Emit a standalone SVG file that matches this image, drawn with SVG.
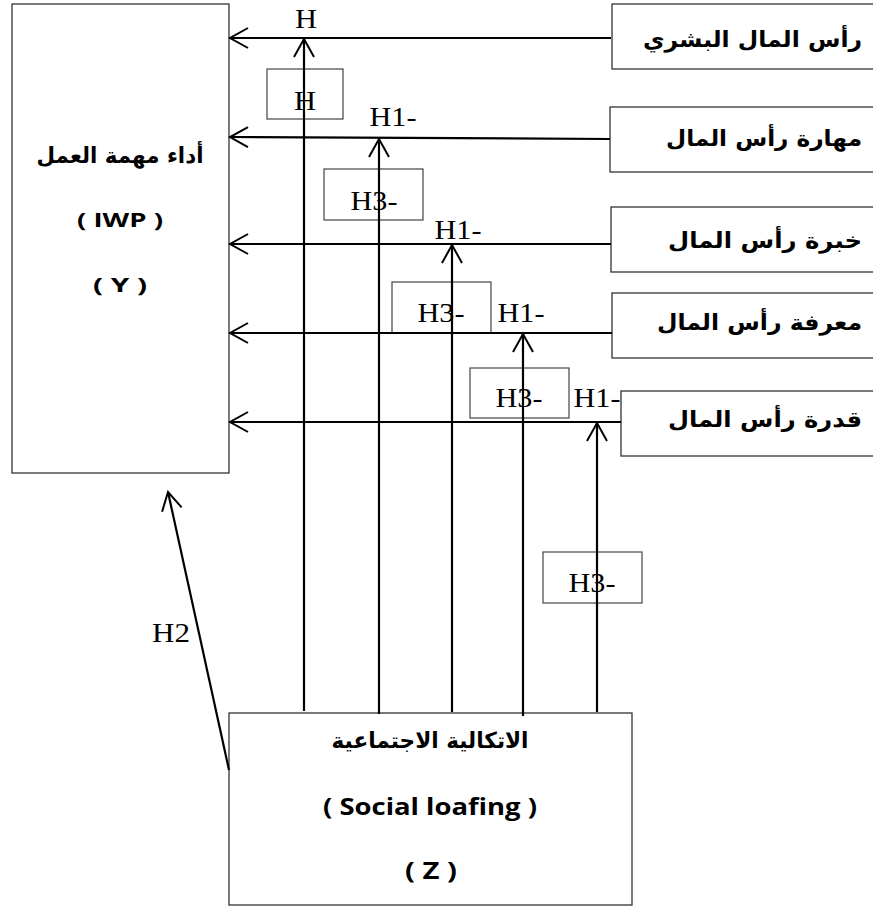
<svg xmlns="http://www.w3.org/2000/svg" width="873" height="908" viewBox="0 0 873 908">
<defs>
<marker id="arr" markerUnits="userSpaceOnUse" markerWidth="24" markerHeight="24" viewBox="-20 -12 22 24" refX="0" refY="0" orient="auto" overflow="visible">
<path d="M -18 -10 L 0 0 L -18 10" fill="none" stroke="#000" stroke-width="2"/>
</marker>
</defs>
<style>
.node{fill:#fff;stroke:#333;stroke-width:1.3}
.lbox{fill:none;stroke:#444;stroke-width:1.2}
.ar{font-family:"DejaVu Sans",sans-serif;font-weight:bold;font-size:22px;fill:#000}
.lat{font-family:"Open Sans",Lato,sans-serif;font-weight:bold;font-size:20px;fill:#000}
.latz{font-family:"Open Sans",Lato,sans-serif;font-weight:bold;font-size:23px;fill:#000}
.h{font-family:"Liberation Serif","Times New Roman",serif;font-size:27px;fill:#000}
.c{fill:none;stroke:#000;stroke-width:2.2}
</style>
<rect width="873" height="908" fill="#fff"/>

<g id="node-y">
<rect class="node" x="12" y="4" width="217" height="469"/>
<text class="ar" x="120" y="163" text-anchor="middle" textLength="167" lengthAdjust="spacingAndGlyphs">أداء مهمة العمل</text>
<text class="lat" x="120" y="227" text-anchor="middle" textLength="86" lengthAdjust="spacingAndGlyphs">( IWP )</text>
<text class="lat" x="120" y="292" text-anchor="middle" textLength="54" lengthAdjust="spacingAndGlyphs">( Y )</text>
</g>

<g id="node-x1">
<rect class="node" x="612" y="4" width="270" height="65"/>
<text class="ar" x="862" y="47" text-anchor="end" textLength="219" lengthAdjust="spacingAndGlyphs">رأس المال البشري</text>
</g>
<g id="node-x2">
<rect class="node" x="610" y="107" width="272" height="65"/>
<text class="ar" x="862" y="146" text-anchor="end" textLength="196" lengthAdjust="spacingAndGlyphs">مهارة رأس المال</text>
</g>
<g id="node-x3">
<rect class="node" x="611" y="207" width="271" height="65"/>
<text class="ar" x="862" y="248" text-anchor="end" textLength="194" lengthAdjust="spacingAndGlyphs">خبرة رأس المال</text>
</g>
<g id="node-x4">
<rect class="node" x="612" y="293" width="270" height="65"/>
<text class="ar" x="862" y="330" text-anchor="end" textLength="205" lengthAdjust="spacingAndGlyphs">معرفة رأس المال</text>
</g>
<g id="node-x5">
<rect class="node" x="621" y="391" width="261" height="65"/>
<text class="ar" x="862" y="427" text-anchor="end" textLength="194" lengthAdjust="spacingAndGlyphs">قدرة رأس المال</text>
</g>

<g id="node-z">
<rect class="node" x="229" y="713" width="403" height="192"/>
<text class="ar" x="430" y="748" text-anchor="middle" textLength="197" lengthAdjust="spacingAndGlyphs">الاتكالية الاجتماعية</text>
<text class="latz" x="430" y="815" text-anchor="middle" textLength="214" lengthAdjust="spacingAndGlyphs">( Social loafing )</text>
<text class="latz" x="431" y="879" text-anchor="middle" textLength="52" lengthAdjust="spacingAndGlyphs">( Z )</text>
</g>

<g id="labels">
<rect class="lbox" x="267" y="69" width="76" height="50"/>
<rect class="lbox" x="324" y="169" width="99" height="51"/>
<rect class="lbox" x="392" y="282" width="99" height="51"/>
<rect class="lbox" x="470" y="368" width="99" height="50"/>
<rect class="lbox" x="543" y="552" width="99" height="51"/>
<text class="h" x="306" y="28" text-anchor="middle" textLength="22" lengthAdjust="spacingAndGlyphs">H</text>
<text class="h" x="305" y="110" text-anchor="middle" textLength="22" lengthAdjust="spacingAndGlyphs">H</text>
<text class="h" x="393" y="126" text-anchor="middle" textLength="47" lengthAdjust="spacingAndGlyphs">H1-</text>
<text class="h" x="374" y="210" text-anchor="middle" textLength="47" lengthAdjust="spacingAndGlyphs">H3-</text>
<text class="h" x="458" y="239" text-anchor="middle" textLength="47" lengthAdjust="spacingAndGlyphs">H1-</text>
<text class="h" x="441" y="322" text-anchor="middle" textLength="47" lengthAdjust="spacingAndGlyphs">H3-</text>
<text class="h" x="521" y="322" text-anchor="middle" textLength="47" lengthAdjust="spacingAndGlyphs">H1-</text>
<text class="h" x="519" y="407" text-anchor="middle" textLength="47" lengthAdjust="spacingAndGlyphs">H3-</text>
<text class="h" x="597" y="407" text-anchor="middle" textLength="47" lengthAdjust="spacingAndGlyphs">H1-</text>
<text class="h" x="592" y="592" text-anchor="middle" textLength="47" lengthAdjust="spacingAndGlyphs">H3-</text>
<text class="h" x="171" y="642" text-anchor="middle" textLength="38" lengthAdjust="spacingAndGlyphs">H2</text>
</g>

<g id="connectors">
<line class="c" x1="611" y1="38" x2="230" y2="38" marker-end="url(#arr)"/>
<line class="c" x1="610" y1="139" x2="230" y2="137" marker-end="url(#arr)"/>
<line class="c" x1="611" y1="244" x2="230" y2="244" marker-end="url(#arr)"/>
<line class="c" x1="612" y1="333" x2="230" y2="333" marker-end="url(#arr)"/>
<line class="c" x1="621" y1="422" x2="230" y2="422" marker-end="url(#arr)"/>
<line class="c" x1="304" y1="711" x2="304" y2="39" marker-end="url(#arr)"/>
<line class="c" x1="379" y1="714" x2="379" y2="139" marker-end="url(#arr)"/>
<line class="c" x1="452" y1="712" x2="452" y2="245" marker-end="url(#arr)"/>
<line class="c" x1="523" y1="716" x2="523" y2="334" marker-end="url(#arr)"/>
<line class="c" x1="597" y1="712" x2="597" y2="423" marker-end="url(#arr)"/>
<line class="c" x1="229" y1="770" x2="168" y2="492" marker-end="url(#arr)"/>
</g>
</svg>
